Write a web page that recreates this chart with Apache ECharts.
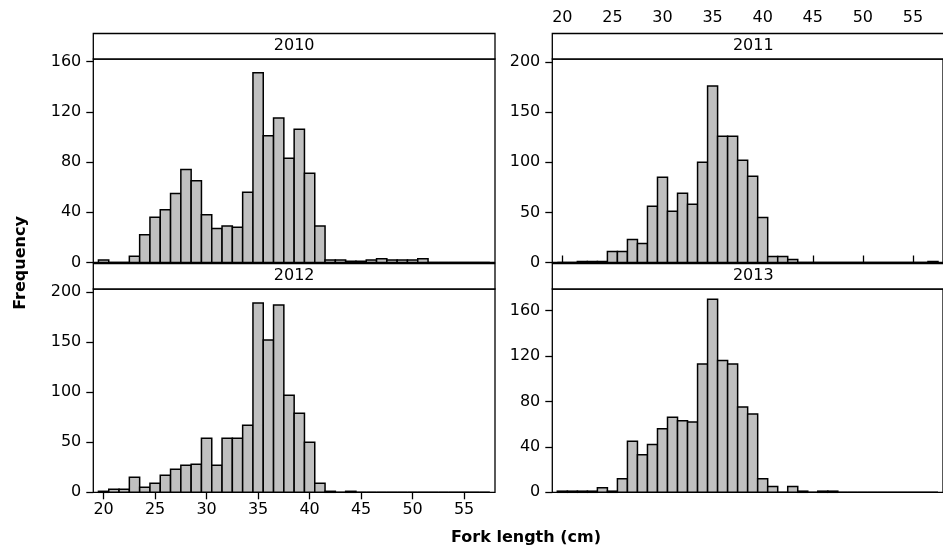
<!DOCTYPE html>
<html>
<head>
<meta charset="utf-8">
<title>Fork length</title>
<script src="https://cdn.jsdelivr.net/npm/echarts@6/dist/echarts.min.js"></script>
<style>
    html, body { margin: 0; padding: 0; background: #fff; }
    #main { width: 943px; height: 550px; }
</style>
</head>
<body>
<div id="main"></div>
<script>
// 1 cm bins, centred on the integer
var bins = [20, 21, 22, 23, 24, 25, 26, 27, 28, 29, 30, 31, 32, 33, 34, 35, 36, 37, 38,
    39, 40, 41, 42, 43, 44, 45, 46, 47, 48, 49, 50, 51, 52, 53, 54, 55, 56, 57];
var years = ['2010', '2011', '2012', '2013'];

var freq2010 = [2, 0, 0, 5, 22, 36, 42, 55, 74, 65, 38, 27, 29, 28, 56, 151, 101, 115, 83,
    106, 71, 29, 2, 2, 1, 1, 2, 3, 2, 2, 2, 3, 0, 0, 0, 0, 0, 0];
var freq2011 = [0, 0, 1, 1, 1, 11, 11, 23, 19, 56, 85, 51, 69, 58, 100, 176, 126, 126, 102,
    86, 45, 6, 6, 3, 0, 0, 0, 0, 0, 0, 0, 0, 0, 0, 0, 0, 0, 1];
var freq2012 = [1, 3, 3, 15, 5, 9, 17, 23, 27, 28, 54, 27, 54, 54, 67, 189, 152, 187, 97,
    79, 50, 9, 1, 0, 1, 0, 0, 0, 0, 0, 0, 0, 0, 0, 0, 0, 0, 0];
var freq2013 = [1, 1, 1, 1, 4, 1, 12, 45, 33, 42, 56, 66, 63, 62, 113, 170, 116, 113, 75,
    69, 12, 5, 0, 5, 1, 0, 1, 1, 0, 0, 0, 0, 0, 0, 0, 0, 0, 0];

var xTicks = [20, 25, 30, 35, 40, 45, 50, 55];
var yTicks2010 = [0, 40, 80, 120, 160];
var yTicks2011 = [0, 50, 100, 150, 200];
var yTicks2012 = [0, 50, 100, 150, 200];
var yTicks2013 = [0, 40, 80, 120, 160];
var yMax = [162, 203, 203, 179];
var xMin = 19, xMax = 58;

var FONT = 'DejaVu Sans';

function LengthPanels() {
    this.init();
}
LengthPanels.prototype = {
    constructor: LengthPanels,
    init: function () {
        var that = this;
        that.chart = echarts.init(document.getElementById('main'), null, {renderer: 'canvas'});
        // panel boxes: [left, top, width, height]
        that.boxes = [
            [93.3, 59, 401.7, 203.5],
            [552.3, 59, 402, 203.5],
            [93.3, 289, 401.7, 203.3],
            [552.3, 289, 402, 203.3]
        ];
        that.stripH = 25.5;
        that.draw();
    },
    // 画柱子
    renderBar: function (params, api) {
        var x = api.value(0);
        var y = api.value(1);
        var p0 = api.coord([x - 0.5, 0]);
        var p1 = api.coord([x + 0.5, y]);
        return {
            type: 'rect',
            shape: {x: p0[0], y: p1[1], width: p1[0] - p0[0], height: p0[1] - p1[1]},
            style: {fill: '#c0c0c0', stroke: '#000', lineWidth: 1.5}
        };
    },
    draw: function () {
        var that = this;
        var freqs = [freq2010, freq2011, freq2012, freq2013];
        var yTicks = [yTicks2010, yTicks2011, yTicks2012, yTicks2013];
        var grids = [], xAxes = [], yAxes = [], series = [], graphics = [];

        for (var i = 0; i < 4; i++) {
            var b = that.boxes[i];
            grids.push({
                left: b[0], top: b[1], width: b[2], height: b[3],
                show: true, borderColor: '#000', borderWidth: 1.3,
                backgroundColor: 'transparent'
            });
            // 2011 has its axis on top, 2012 at the bottom
            var showX = (i === 1 || i === 2);
            xAxes.push({
                type: 'value', gridIndex: i, min: xMin, max: xMax,
                position: i === 1 ? 'top' : 'bottom',
                offset: i === 1 ? that.stripH : 0,
                splitLine: {show: false},
                axisLine: {show: false},
                axisTick: {show: showX, length: 7, inside: false,
                    lineStyle: {color: '#000', width: 1.3}, customValues: xTicks},
                axisLabel: {show: showX, color: '#000', fontFamily: FONT, fontSize: 16,
                    margin: i === 1 ? 8 : 10, customValues: xTicks}
            });
            yAxes.push({
                type: 'value', gridIndex: i, min: 0, max: yMax[i],
                splitLine: {show: false},
                axisLine: {show: false},
                axisTick: {show: true, length: 7, inside: false,
                    lineStyle: {color: '#000', width: 1.3}, customValues: yTicks[i]},
                axisLabel: {color: '#000', fontFamily: FONT, fontSize: 16, margin: 12,
                    customValues: yTicks[i]}
            });
            var data = [];
            for (var k = 0; k < bins.length; k++) {
                data.push([bins[k], freqs[i][k]]);
            }
            series.push({
                type: 'custom', xAxisIndex: i, yAxisIndex: i,
                renderItem: that.renderBar, data: data, clip: false
            });
            // 条带
            graphics.push({
                type: 'rect', z: 10,
                shape: {x: b[0], y: b[1] - that.stripH, width: b[2], height: that.stripH},
                style: {fill: '#fff', stroke: '#000', lineWidth: 1.3}
            });
            graphics.push({
                type: 'text', z: 11,
                x: b[0] + b[2] / 2, y: b[1] - that.stripH / 2,
                style: {text: years[i], fill: '#000', font: '16px "' + FONT + '"',
                    align: 'center', verticalAlign: 'middle'}
            });
        }

        graphics.push({
            type: 'text', x: 21, y: 263, rotation: Math.PI / 2,
            style: {text: 'Frequency', fill: '#000', font: 'bold 16px "' + FONT + '"',
                align: 'center', verticalAlign: 'middle'}
        });
        graphics.push({
            type: 'text', x: 526, y: 538,
            style: {text: 'Fork length (cm)', fill: '#000', font: 'bold 16px "' + FONT + '"',
                align: 'center', verticalAlign: 'middle'}
        });

        that.chart.setOption({
            animation: false,
            backgroundColor: '#fff',
            grid: grids,
            xAxis: xAxes,
            yAxis: yAxes,
            series: series,
            graphic: graphics
        });
    }
};

var LengthPanelsIns = new LengthPanels();
</script>
</body>
</html>
